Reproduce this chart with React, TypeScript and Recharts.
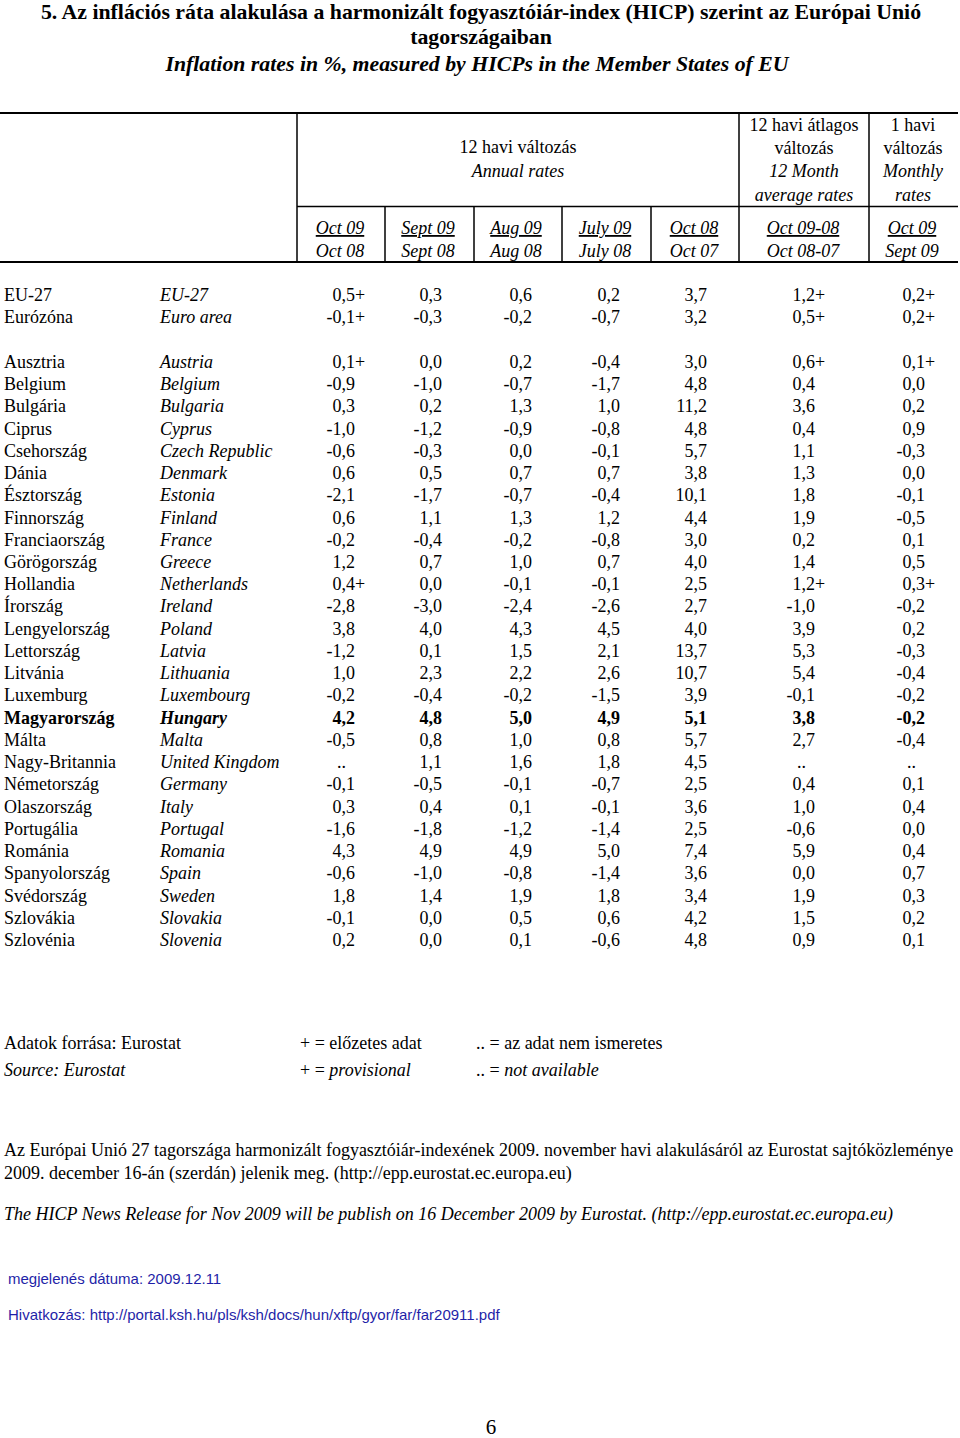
import { ScatterChart, Scatter, XAxis, YAxis } from "recharts";

// Row labels (EU aggregates first, then the member states)
const huNames = [
  "EU-27", "Eurózóna",
  "Ausztria", "Belgium", "Bulgária", "Ciprus", "Csehország", "Dánia", "Észtország",
  "Finnország", "Franciaország", "Görögország", "Hollandia", "Írország", "Lengyelország",
  "Lettország", "Litvánia", "Luxemburg", "Magyarország", "Málta", "Nagy-Britannia",
  "Németország", "Olaszország", "Portugália", "Románia", "Spanyolország", "Svédország",
  "Szlovákia", "Szlovénia",
];
const enNames = [
  "EU-27", "Euro area",
  "Austria", "Belgium", "Bulgaria", "Cyprus", "Czech Republic", "Denmark", "Estonia",
  "Finland", "France", "Greece", "Netherlands", "Ireland", "Poland",
  "Latvia", "Lithuania", "Luxembourg", "Hungary", "Malta", "United Kingdom",
  "Germany", "Italy", "Portugal", "Romania", "Spain", "Sweden",
  "Slovakia", "Slovenia",
];

// null = not available ("..")
const oct09 = [0.5, -0.1, 0.1, -0.9, 0.3, -1.0, -0.6, 0.6, -2.1, 0.6, -0.2, 1.2, 0.4, -2.8, 3.8, -1.2, 1.0, -0.2, 4.2, -0.5, null, -0.1, 0.3, -1.6, 4.3, -0.6, 1.8, -0.1, 0.2];
const sept09 = [0.3, -0.3, 0.0, -1.0, 0.2, -1.2, -0.3, 0.5, -1.7, 1.1, -0.4, 0.7, 0.0, -3.0, 4.0, 0.1, 2.3, -0.4, 4.8, 0.8, 1.1, -0.5, 0.4, -1.8, 4.9, -1.0, 1.4, 0.0, 0.0];
const aug09 = [0.6, -0.2, 0.2, -0.7, 1.3, -0.9, 0.0, 0.7, -0.7, 1.3, -0.2, 1.0, -0.1, -2.4, 4.3, 1.5, 2.2, -0.2, 5.0, 1.0, 1.6, -0.1, 0.1, -1.2, 4.9, -0.8, 1.9, 0.5, 0.1];
const july09 = [0.2, -0.7, -0.4, -1.7, 1.0, -0.8, -0.1, 0.7, -0.4, 1.2, -0.8, 0.7, -0.1, -2.6, 4.5, 2.1, 2.6, -1.5, 4.9, 0.8, 1.8, -0.7, -0.1, -1.4, 5.0, -1.4, 1.8, 0.6, -0.6];
const oct08 = [3.7, 3.2, 3.0, 4.8, 11.2, 4.8, 5.7, 3.8, 10.1, 4.4, 3.0, 4.0, 2.5, 2.7, 4.0, 13.7, 10.7, 3.9, 5.1, 5.7, 4.5, 2.5, 3.6, 2.5, 7.4, 3.6, 3.4, 4.2, 4.8];
const avg12 = [1.2, 0.5, 0.6, 0.4, 3.6, 0.4, 1.1, 1.3, 1.8, 1.9, 0.2, 1.4, 1.2, -1.0, 3.9, 5.3, 5.4, -0.1, 3.8, 2.7, null, 0.4, 1.0, -0.6, 5.9, 0.0, 1.9, 1.5, 0.9];
const monthly = [0.2, 0.2, 0.1, 0.0, 0.2, 0.9, -0.3, 0.0, -0.1, -0.5, 0.1, 0.5, 0.3, -0.2, 0.2, -0.3, -0.4, -0.2, -0.2, -0.4, null, 0.1, 0.4, 0.0, 0.4, 0.7, 0.3, 0.2, 0.1];

const series = [oct09, sept09, aug09, july09, oct08, avg12, monthly];
const provisionalRows = ["EU-27", "Euro area", "Austria", "Netherlands"];
const provisionalSeries = [0, 5, 6];
const highlighted = "Hungary";

// layout
const SERIF = "'Liberation Serif', 'Times New Roman', serif";
const SANS = "'Liberation Sans', Arial, sans-serif";
const FS = 18;
const nameX = [4, 160];
const valueRight = [355, 442, 532, 620, 707, 815, 925];
const ROW_COUNT = 30;

const rowIndex = (i: number) => (i < 2 ? i : i + 1);
const fmt = (v: number) => v.toFixed(1).replace(".", ",");

const nameShape = (italic: boolean) => (props: any) => {
  const { cx, cy, payload } = props;
  return (
    <text
      x={cx}
      y={cy + 6}
      fontFamily={SERIF}
      fontSize={FS}
      fontStyle={italic ? "italic" : "normal"}
      fontWeight={payload.bold ? "bold" : "normal"}
      fill="#000"
    >
      {payload.label}
    </text>
  );
};

const valueShape = (props: any) => {
  const { cx, cy, payload } = props;
  const common = {
    y: cy + 6,
    fontFamily: SERIF,
    fontSize: FS,
    fontWeight: payload.bold ? "bold" : "normal",
    fill: "#000",
  };
  if (payload.value === null) {
    return (
      <text {...common} x={cx - 9} textAnchor="end">
        ..
      </text>
    );
  }
  return (
    <g>
      <text {...common} x={cx} textAnchor="end">
        {fmt(payload.value)}
      </text>
      {payload.provisional && (
        <text {...common} x={cx} textAnchor="start">
          +
        </text>
      )}
    </g>
  );
};

const T = ({ x, y, children, size = FS, italic = false, bold = false, anchor = "middle", underline = false, family = SERIF, fill = "#000" }: any) => (
  <text
    x={x}
    y={y}
    fontFamily={family}
    fontSize={size}
    fontStyle={italic ? "italic" : "normal"}
    fontWeight={bold ? "bold" : "normal"}
    textAnchor={anchor}
    fill={fill}
    style={underline ? { textDecoration: "underline" } : undefined}
  >
    {children}
  </text>
);

const dateTop = ["Oct 09", "Sept 09", "Aug 09", "July 09", "Oct 08", "Oct 09-08", "Oct 09"];
const dateBottom = ["Oct 08", "Sept 08", "Aug 08", "July 08", "Oct 07", "Oct 08-07", "Sept 09"];
const dateCenters = [340, 428, 516, 605, 694, 803, 912];

const Page = () => (
  <svg width={960} height={1438} style={{ position: "absolute", left: 0, top: 0 }}>
    <T x={481} y={19} size={21.8} bold>
      5. Az inflációs ráta alakulása a harmonizált fogyasztóiár-index (HICP) szerint az Európai Unió
    </T>
    <T x={481} y={44} size={21.8} bold>
      tagországaiban
    </T>
    <T x={477} y={71} size={21.8} bold italic>
      Inflation rates in %, measured by HICPs in the Member States of EU
    </T>

    {/* table header rules */}
    <g stroke="#000">
      <line x1={0} x2={958} y1={113} y2={113} strokeWidth={2} />
      <line x1={0} x2={958} y1={262} y2={262} strokeWidth={2} />
      <line x1={297} x2={958} y1={206.5} y2={206.5} strokeWidth={1.5} />
      {[297, 739, 869].map((x) => (
        <line key={x} x1={x} x2={x} y1={113} y2={262} strokeWidth={1.5} />
      ))}
      {[385, 474, 562, 651].map((x) => (
        <line key={x} x1={x} x2={x} y1={206} y2={262} strokeWidth={1.5} />
      ))}
    </g>

    <T x={518} y={153}>12 havi változás</T>
    <T x={518} y={177} italic>Annual rates</T>
    <T x={804} y={131}>12 havi átlagos</T>
    <T x={804} y={154}>változás</T>
    <T x={804} y={177} italic>12 Month</T>
    <T x={804} y={201} italic>average rates</T>
    <T x={913} y={131}>1 havi</T>
    <T x={913} y={154}>változás</T>
    <T x={913} y={177} italic>Monthly</T>
    <T x={913} y={201} italic>rates</T>
    {dateTop.map((d, i) => (
      <T key={"t" + i} x={dateCenters[i]} y={234} italic underline>
        {d}
      </T>
    ))}
    {dateBottom.map((d, i) => (
      <T key={"b" + i} x={dateCenters[i]} y={257} italic>
        {d}
      </T>
    ))}

    {/* notes */}
    <T x={4} y={1049} anchor="start">Adatok forrása: Eurostat</T>
    <T x={300} y={1049} anchor="start">+ = előzetes adat</T>
    <T x={476} y={1049} anchor="start">.. = az adat nem ismeretes</T>
    <T x={4} y={1076} anchor="start" italic>Source: Eurostat</T>
    <text x={300} y={1076} fontFamily={SERIF} fontSize={FS}>
      + = <tspan fontStyle="italic">provisional</tspan>
    </text>
    <text x={476} y={1076} fontFamily={SERIF} fontSize={FS}>
      .. = <tspan fontStyle="italic">not available</tspan>
    </text>

    <T x={4} y={1156} anchor="start">
      Az Európai Unió 27 tagországa harmonizált fogyasztóiár-indexének 2009. november havi alakulásáról az Eurostat sajtóközleménye
    </T>
    <T x={4} y={1179} anchor="start">
      2009. december 16-án (szerdán) jelenik meg. (http://epp.eurostat.ec.europa.eu)
    </T>
    <T x={4} y={1220} anchor="start" italic>
      The HICP News Release  for Nov 2009 will be publish on 16 December 2009 by Eurostat. (http://epp.eurostat.ec.europa.eu)
    </T>

    <T x={8} y={1284} anchor="start" size={15} family={SANS} fill="#1f1fa8">
      megjelenés dátuma: 2009.12.11
    </T>
    <T x={8} y={1320} anchor="start" size={15} family={SANS} fill="#1f1fa8">
      Hivatkozás: http://portal.ksh.hu/pls/ksh/docs/hun/xftp/gyor/far/far20911.pdf
    </T>

    <T x={491} y={1434} size={21}>6</T>
  </svg>
);

const App = () => {
  const huPoints = huNames.map((label, i) => ({ x: nameX[0], row: rowIndex(i), label, bold: enNames[i] === highlighted }));
  const enPoints = enNames.map((label, i) => ({ x: nameX[1], row: rowIndex(i), label, bold: label === highlighted }));
  const valuePoints = series.map((values, s) =>
    values.map((value, i) => ({
      x: valueRight[s],
      row: rowIndex(i),
      value,
      bold: enNames[i] === highlighted,
      provisional: provisionalSeries.includes(s) && provisionalRows.includes(enNames[i]),
    }))
  );

  const rowH = 22.24;
  const top = 295 - rowH / 2;

  return (
    <div style={{ position: "absolute", left: 0, top: 0, width: 960, height: 1438, background: "#fff" }}>
      <Page />
      <div style={{ position: "absolute", left: 0, top }}>
        <ScatterChart width={960} height={rowH * ROW_COUNT} margin={{ top: 0, right: 0, bottom: 0, left: 0 }}>
          <XAxis type="number" dataKey="x" domain={[0, 960]} allowDataOverflow hide />
          <YAxis type="number" dataKey="row" domain={[-0.5, ROW_COUNT - 0.5]} allowDataOverflow reversed hide />
          <Scatter data={huPoints} shape={nameShape(false)} isAnimationActive={false} />
          <Scatter data={enPoints} shape={nameShape(true)} isAnimationActive={false} />
          {valuePoints.map((pts, s) => (
            <Scatter key={s} data={pts} shape={valueShape} isAnimationActive={false} />
          ))}
        </ScatterChart>
      </div>
    </div>
  );
};

export default App;
